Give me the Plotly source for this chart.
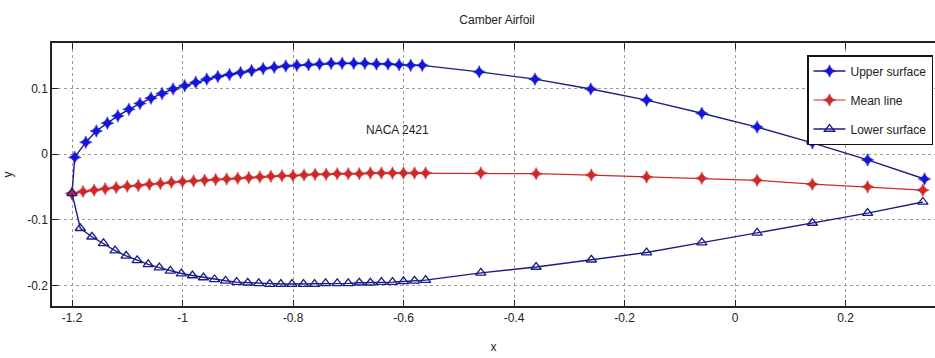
import plotly.graph_objects as go

# ---- data ----
x_pts = [-1.20, -1.18, -1.16, -1.14, -1.12, -1.10, -1.08, -1.06, -1.04, -1.02,
         -1.00, -0.98, -0.96, -0.94, -0.92, -0.90, -0.88, -0.86, -0.84, -0.82,
         -0.80, -0.78, -0.76, -0.74, -0.72, -0.70, -0.68, -0.66, -0.64, -0.62,
         -0.60, -0.58, -0.56, -0.46, -0.36, -0.26, -0.16, -0.06, 0.04, 0.14,
         0.24, 0.34]

x_upper = [-1.200, -1.195, -1.175, -1.156, -1.136, -1.117, -1.097, -1.077, -1.057, -1.037,
           -1.017, -0.996, -0.976, -0.956, -0.936, -0.915, -0.895, -0.875, -0.854, -0.834,
           -0.813, -0.793, -0.772, -0.752, -0.731, -0.711, -0.690, -0.670, -0.649, -0.628,
           -0.608, -0.587, -0.566, -0.463, -0.362, -0.261, -0.160, -0.060, 0.040, 0.140,
           0.240, 0.343]
y_upper = [-0.060, -0.005, 0.018, 0.035, 0.047, 0.058, 0.068, 0.077, 0.085, 0.092,
           0.099, 0.104, 0.109, 0.114, 0.118, 0.121, 0.124, 0.127, 0.130, 0.132,
           0.134, 0.135, 0.136, 0.137, 0.138, 0.138, 0.138, 0.138, 0.137, 0.137,
           0.136, 0.135, 0.135, 0.125, 0.114, 0.099, 0.082, 0.062, 0.041, 0.017,
           -0.009, -0.038]

y_mean = [-0.060, -0.057, -0.055, -0.053, -0.051, -0.049, -0.048, -0.046, -0.045, -0.043,
          -0.042, -0.041, -0.040, -0.039, -0.038, -0.037, -0.036, -0.035, -0.034, -0.033,
          -0.033, -0.032, -0.031, -0.031, -0.030, -0.030, -0.030, -0.029, -0.029, -0.029,
          -0.029, -0.029, -0.029, -0.029, -0.030, -0.032, -0.035, -0.037, -0.040, -0.046,
          -0.050, -0.055]

x_lower = [-1.200, -1.185, -1.164, -1.143, -1.122, -1.102, -1.082, -1.062, -1.042, -1.022,
           -1.002, -0.982, -0.962, -0.942, -0.922, -0.902, -0.882, -0.862, -0.842, -0.822,
           -0.802, -0.781, -0.761, -0.741, -0.720, -0.700, -0.680, -0.660, -0.640, -0.620,
           -0.600, -0.580, -0.560, -0.460, -0.360, -0.260, -0.160, -0.060, 0.040, 0.140,
           0.240, 0.340]
y_lower = [-0.060, -0.113, -0.126, -0.136, -0.147, -0.155, -0.162, -0.168, -0.173, -0.178,
           -0.182, -0.185, -0.188, -0.191, -0.193, -0.195, -0.196, -0.197, -0.198, -0.198,
           -0.198, -0.198, -0.198, -0.197, -0.197, -0.197, -0.196, -0.196, -0.195, -0.195,
           -0.194, -0.193, -0.192, -0.181, -0.172, -0.161, -0.150, -0.135, -0.120, -0.105,
           -0.090, -0.073]

x_ticks = [-1.2, -1.0, -0.8, -0.6, -0.4, -0.2, 0.0, 0.2]
x_tick_text = ["-1.2", "-1", "-0.8", "-0.6", "-0.4", "-0.2", "0", "0.2"]
y_ticks = [-0.2, -0.1, 0.0, 0.1]
y_tick_text = ["-0.2", "-0.1", "0", "0.1"]

FONT = "Liberation Sans Narrow, Arial Narrow, Liberation Sans, Arial, sans-serif"
NAVY = "#1c1c86"
BLUE = "#1515d8"
RED = "#cc2a2a"

fig = go.Figure()
fig.add_trace(go.Scatter(
    x=x_upper, y=y_upper, mode="lines+markers", name="Upper surface",
    legendgroup="u",
    line=dict(color=NAVY, width=1.4),
    marker=dict(symbol="star-diamond", size=9, color=BLUE,
                line=dict(color=BLUE, width=0.5))))
fig.add_trace(go.Scatter(
    x=x_pts, y=y_mean, mode="lines+markers", name="Mean line",
    legendgroup="m",
    line=dict(color=RED, width=1.2),
    marker=dict(symbol="star-diamond", size=9, color=RED,
                line=dict(color=RED, width=0.5))))
fig.add_trace(go.Scatter(
    x=x_lower, y=y_lower, mode="lines+markers", name="Lower surface",
    legendgroup="l",
    line=dict(color=NAVY, width=1.4),
    marker=dict(symbol="triangle-up-open", size=9, color=NAVY,
                line=dict(color=NAVY, width=1.3))))

fig.add_annotation(x=-0.61, y=0.0365, text="NACA 2421", showarrow=False,
                   font=dict(family=FONT, size=12, color="#222222"))

axis_common = dict(
    showgrid=True, gridcolor="#9a9a9a", griddash="dot", gridwidth=1,
    zeroline=False, showline=True, linecolor="#222222", linewidth=1.5,
    ticks="inside", ticklen=6, tickwidth=1.2, tickcolor="#222222",
    tickfont=dict(family=FONT, size=12, color="#222222"),
)

fig.update_layout(
    width=935, height=358,
    margin=dict(l=52, r=0, t=43, b=52),
    paper_bgcolor="white", plot_bgcolor="white",
    font=dict(family=FONT, color="#222222"),
    title=dict(text="Camber Airfoil", x=(497) / 935, xanchor="center",
               y=1 - 20 / 358, yanchor="middle",
               font=dict(family=FONT, size=12, color="#222222")),
    xaxis=dict(range=[-1.2362, 0.362], tickvals=x_ticks, ticktext=x_tick_text,
               mirror="ticks", title=dict(text="x", standoff=18,
                                           font=dict(family=FONT, size=12)),
               **axis_common),
    yaxis=dict(range=[-0.2314, 0.169], tickvals=y_ticks, ticktext=y_tick_text,
               mirror=False, title=dict(text="y", standoff=12,
                                          font=dict(family=FONT, size=12)),
               **axis_common),
    showlegend=True,
    legend=dict(x=(807 - 52) / 883, y=(306 - 55) / 263, xanchor="left", yanchor="top",
                bgcolor="white", bordercolor="#111111", borderwidth=1.5,
                font=dict(family=FONT, size=12, color="#222222"),
                tracegroupgap=10, itemwidth=32),
)

fig.write_html("out.html")
